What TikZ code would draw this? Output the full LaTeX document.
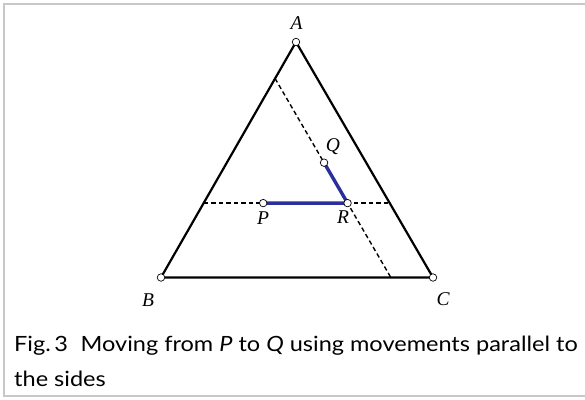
\documentclass[tikz,border=0pt]{standalone}
\usepackage{fontspec}
\setmainfont{Lato}
\newfontfamily\capfont[FakeStretch=1.12]{Lato}
\newfontfamily\lblfont{Liberation Serif}
\usetikzlibrary{calc}
\definecolor{pathblue}{HTML}{2B2F9B}
\definecolor{framegray}{HTML}{C8C8C8}
\tikzset{
  side/.style={line width=2.2pt, line cap=round},
  guide/.style={line width=1.4pt, dash pattern=on 4.5pt off 3pt},
  route/.style={line width=3.4pt, color=pathblue},
  pt/.style={circle, draw=black, fill=white, line width=0.7pt, inner sep=0pt, minimum size=7.5pt},
  lbl/.style={font=\lblfont\itshape\fontsize{19.5}{19.5}\selectfont, inner sep=0pt},
  captext/.style={font=\capfont\fontsize{21}{24}\selectfont, anchor=base west, inner sep=0pt}
}
\begin{document}
\begin{tikzpicture}[x=1pt,y=-1pt]
\useasboundingbox (0,0) rectangle (585,399);
\draw[framegray, line width=2pt] (585,4) -- (4,4) -- (4,395.5) -- (585,395.5);
% vertices
\coordinate (A) at (296,42);
\coordinate (B) at (161,277.5);
\coordinate (C) at (433,277.5);
% guide lines
\coordinate (HL) at ($(A)!0.684!(B)$);
\coordinate (HR) at ($(A)!0.684!(C)$);
\coordinate (T) at ($(A)!0.155!(B)$);
\coordinate (U) at ($(B)!0.845!(C)$);
\coordinate (R) at (intersection of HL--HR and T--U);
\coordinate (Q) at ($(T)!0.423!(U)$);
\coordinate (P) at ($(HL)!0.32!(HR)$);
\draw[side] (A) -- (B) -- (C) -- cycle;
\draw[guide] (HL) -- (HR);
\draw[guide] (T) -- (U);
\draw[route] (P) -- (R) -- (Q);
\node[pt] (nA) at (A) {};
\node[pt] (nB) at (B) {};
\node[pt] (nC) at (C) {};
\node[pt] (nP) at (P) {};
\node[pt] (nQ) at (Q) {};
\node[pt] (nR) at (R) {};
\node[lbl] (lA) at (296.5,23.5) {A};
\node[lbl] (lB) at (148,300.5) {B};
\node[lbl] (lC) at (443,299.5) {C};
\node[lbl] (lP) at (263,218) {P};
\node[lbl] (lQ) at (333,147) {Q};
\node[lbl] (lR) at (343,217) {R};
\node[captext] (cap1) at (14,351) {Fig.\,3\hspace{0.6em}Moving from \textit{P} to \textit{Q} using movements parallel to};
\node[captext] (cap2) at (14,386.7) {the sides};
\end{tikzpicture}
\end{document}
